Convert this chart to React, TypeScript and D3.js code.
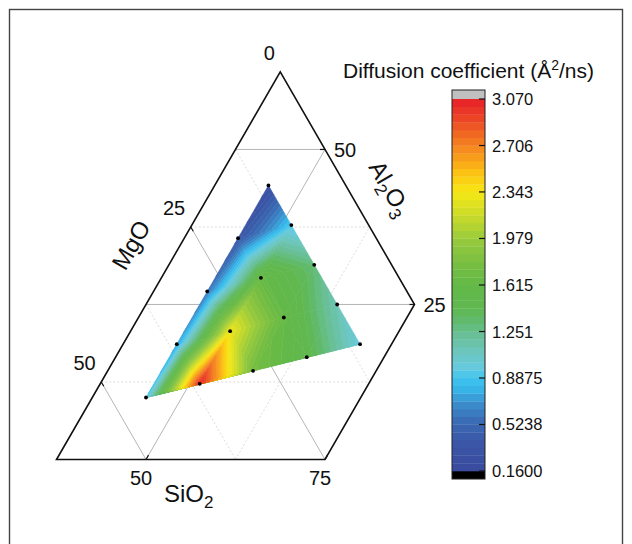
import React, { useEffect, useRef } from 'react';
import * as d3 from 'd3';

// sampled compositions (mol %) and the diffusion coefficient at each one
const sio2 = [45.0, 45.0, 45.0, 45.0, 45.0, 51.4, 51.4, 51.4, 51.4, 57.8, 57.8, 57.8, 64.2, 64.2, 70.6];
const mgo = [10.8, 19.3, 27.9, 36.4, 45.0, 10.8, 19.3, 27.9, 36.4, 10.8, 19.3, 27.9, 10.8, 19.3, 10.8];
const al2o3 = [44.2, 35.7, 27.1, 18.6, 10.0, 37.8, 29.3, 20.7, 12.2, 31.4, 22.9, 14.3, 25.0, 16.5, 18.6];
const diffusion = [0.25, 0.38, 0.58, 0.74, 0.90, 0.90, 1.64, 2.30, 3.05, 1.30, 1.62, 1.76, 1.12, 1.48, 0.97];

// axes
const sio2Ticks = [50, 75];
const mgoTicks = [0, 25, 50];
const al2o3Ticks = [25, 50];
const gridValues = [12.5, 25, 37.5, 50, 62.5];

// colour scale
const colorTicks = [0.16, 0.5238, 0.8875, 1.251, 1.615, 1.979, 2.343, 2.706, 3.07];
const colorTickLabels = ['0.1600', '0.5238', '0.8875', '1.251', '1.615', '1.979', '2.343', '2.706', '3.070'];
const paletteStops = [0.16, 0.40, 0.55, 0.68, 0.80, 0.88, 0.97, 1.10, 1.22, 1.32, 1.42, 1.60, 1.78, 1.979, 2.15, 2.343, 2.48, 2.60, 2.75, 2.90, 3.07];
const paletteColors = ['#3a4a9f', '#3b58a7', '#3b6cb5', '#3b8ccc', '#38b4e8', '#3ec4ef', '#66cade', '#6cc6bb', '#68bf98', '#62bb72', '#5fb852',
  '#62b847', '#78be42', '#9acb3c', '#c8da2a', '#f6e816', '#fcc712', '#f9a01b', '#f47622', '#ec4a26', '#e8202a'];
const nLevels = 48;

const font = 'Liberation Sans, Arial, sans-serif';

type P = number[];

const clipHalf = (poly: P[], f: (p: P) => number) => {
    const res: P[] = [];
    for (let i = 0; i < poly.length; i++) {
        const a = poly[i];
        const b = poly[(i + 1) % poly.length];
        const fa = f(a);
        const fb = f(b);
        if (fa >= 0) res.push(a);
        if ((fa >= 0) !== (fb >= 0)) {
            const t = fa / (fa - fb);
            res.push(a.map((av, k) => av + t * (b[k] - av)));
        }
    }
    return res;
};

export default function App() {
    const svgRef = useRef<SVGSVGElement>(null);

    useEffect(() => {
        const svg = d3.select(svgRef.current);
        svg.selectAll('*').remove();

        // outer border
        svg.append('rect')
            .attr('x', 9.5).attr('y', 9.5).attr('width', 613).attr('height', 560)
            .attr('fill', 'none').attr('stroke', '#444').attr('stroke-width', 1.4);

        // ternary -> pixel (SiO2 bottom right, MgO bottom left, Al2O3 top)
        const side = 716;
        const x = d3.scaleLinear().domain([0, 100]).range([-212, -212 + side]);
        const y = d3.scaleLinear().domain([0, 100]).range([459.5, 459.5 - side * Math.sqrt(3) / 2]);
        const proj = (s: number, a: number): [number, number] => [x(s + a / 2), y(a)];
        const sLo = 37.5;
        const sHi = 75;

        const g = svg.append('g');

        // grid
        const segs: { a: [number, number]; b: [number, number]; major: boolean }[] = [];
        gridValues.forEach((v) => {
            const major = v % 25 === 0;
            const sEnd = Math.min(sHi, 100 - v);
            // constant Al2O3
            if (sEnd > sLo) segs.push({ a: proj(sLo, v), b: proj(sEnd, v), major });
            // constant SiO2
            if (v > sLo && v < sHi) segs.push({ a: proj(v, 0), b: proj(v, 100 - v), major });
            // constant MgO
            if (sEnd > sLo) segs.push({ a: proj(sLo, 100 - v - sLo), b: proj(sEnd, 100 - v - sEnd), major });
        });
        g.append('g').selectAll('line').data(segs).join('line')
            .attr('x1', (d) => d.a[0]).attr('y1', (d) => d.a[1])
            .attr('x2', (d) => d.b[0]).attr('y2', (d) => d.b[1])
            .attr('stroke', (d) => (d.major ? '#adadad' : '#cdcdcd'))
            .attr('stroke-width', (d) => (d.major ? 0.9 : 0.7))
            .attr('stroke-dasharray', (d) => (d.major ? null : '2,2'));

        // contour fill from a linear interpolation on the triangulated samples
        const pts = sio2.map((s, i) => proj(s, al2o3[i]));
        const delaunay = d3.Delaunay.from(pts);
        const color = d3.scaleLinear<string>().domain(paletteStops).range(paletteColors).interpolate(d3.interpolateRgb);
        const vMin = colorTicks[0];
        const vMax = colorTicks[colorTicks.length - 1];
        const levels = d3.range(nLevels + 1).map((k) => vMin + (k * (vMax - vMin)) / nLevels);
        const bands: { poly: P[]; fill: string }[] = [];
        const tri = delaunay.triangles;
        for (let t = 0; t < tri.length; t += 3) {
            const ids = [tri[t], tri[t + 1], tri[t + 2]];
            const poly = ids.map((i) => [pts[i][0], pts[i][1], diffusion[i]]);
            const area = Math.abs((poly[1][0] - poly[0][0]) * (poly[2][1] - poly[0][1]) - (poly[2][0] - poly[0][0]) * (poly[1][1] - poly[0][1])) / 2;
            if (area < 1) continue;
            for (let k = 0; k < nLevels; k++) {
                const lo = k === 0 ? -Infinity : levels[k];
                const hi = k === nLevels - 1 ? Infinity : levels[k + 1];
                let p = clipHalf(poly, (q) => q[2] - lo);
                p = clipHalf(p, (q) => hi - q[2]);
                if (p.length >= 3) bands.push({ poly: p, fill: color((levels[k] + levels[k + 1]) / 2) });
            }
        }
        const line = d3.line<P>().x((d) => d[0]).y((d) => d[1]).curve(d3.curveLinearClosed);
        g.append('g').selectAll('path').data(bands).join('path')
            .attr('d', (d) => line(d.poly))
            .attr('fill', (d) => d.fill)
            .attr('stroke', (d) => d.fill)
            .attr('stroke-width', 0.6)
            .attr('stroke-linejoin', 'round');

        // frame
        const frame = [proj(sLo, 100 - sLo), proj(sHi, 100 - sHi), proj(sHi, 0), proj(sLo, 0)];
        g.append('path')
            .attr('d', line(frame))
            .attr('fill', 'none').attr('stroke', '#111').attr('stroke-width', 1.6)
            .attr('stroke-linejoin', 'miter');

        // ticks (inward, along the grid directions)
        const tickLen = 5;
        const ticks: [number, number, number, number][] = [];
        sio2Ticks.forEach((s) => {
            const [px, py] = proj(s, 0);
            ticks.push([px, py, px + tickLen * 0.5, py - tickLen * 0.866]);
        });
        mgoTicks.slice(1).forEach((m) => {
            const [px, py] = proj(sLo, 100 - m - sLo);
            ticks.push([px, py, px + tickLen * 0.5, py + tickLen * 0.866]);
        });
        al2o3Ticks.forEach((a) => {
            const [px, py] = proj(100 - a, a);
            ticks.push([px, py, px - tickLen, py]);
        });
        g.append('g').selectAll('line').data(ticks).join('line')
            .attr('x1', (d) => d[0]).attr('y1', (d) => d[1])
            .attr('x2', (d) => d[2]).attr('y2', (d) => d[3])
            .attr('stroke', '#111').attr('stroke-width', 1.2);

        // sample points
        g.append('g').selectAll('circle').data(pts).join('circle')
            .attr('cx', (d) => d[0]).attr('cy', (d) => d[1])
            .attr('r', 1.9).attr('fill', '#000');

        // tick labels
        const labels = g.append('g').attr('font-family', font).attr('font-size', 20).attr('fill', '#111');
        mgoTicks.forEach((m) => {
            const [px, py] = proj(sLo, 100 - m - sLo);
            labels.append('text').attr('x', px - 5.5).attr('y', py - 12).attr('text-anchor', 'end').text(m);
        });
        al2o3Ticks.forEach((a) => {
            const [px, py] = proj(100 - a, a);
            labels.append('text').attr('x', px + 9).attr('y', py + 7.5).text(a);
        });
        sio2Ticks.forEach((s) => {
            const [px, py] = proj(s, 0);
            labels.append('text').attr('x', px - 5).attr('y', py + 25.5).attr('text-anchor', 'middle').text(s);
        });

        // axis titles
        const titles = g.append('g').attr('font-family', font).attr('font-size', 24).attr('fill', '#111');
        const si = titles.append('text').attr('x', 164).attr('y', 502);
        si.append('tspan').text('SiO');
        si.append('tspan').attr('dy', 6).attr('font-size', 17).text('2');

        titles.append('text')
            .attr('transform', 'translate(131,245) rotate(-60)')
            .attr('text-anchor', 'middle').attr('dy', '0.35em')
            .text('MgO');

        const al = titles.append('text')
            .attr('transform', 'translate(389,189) rotate(60)')
            .attr('text-anchor', 'middle').attr('dy', '0.3em');
        al.append('tspan').text('Al');
        al.append('tspan').attr('dy', 6).attr('font-size', 17).text('2');
        al.append('tspan').attr('dy', -6).text('O');
        al.append('tspan').attr('dy', 6).attr('font-size', 17).text('3');

        // colour bar
        const cbX = 452;
        const cbW = 33;
        const cbY = d3.scaleLinear().domain([vMin, vMax]).range([471, 99]);
        const cb = svg.append('g');
        cb.append('rect').attr('x', cbX).attr('y', 90).attr('width', cbW).attr('height', cbY(vMax) - 90).attr('fill', '#c0c0c0');
        cb.append('rect').attr('x', cbX).attr('y', cbY(vMin)).attr('width', cbW).attr('height', 479 - cbY(vMin)).attr('fill', '#000');
        cb.append('g').selectAll('rect').data(d3.range(nLevels)).join('rect')
            .attr('x', cbX)
            .attr('y', (k) => cbY(levels[k + 1]))
            .attr('width', cbW)
            .attr('height', (k) => cbY(levels[k]) - cbY(levels[k + 1]) + 0.3)
            .attr('fill', (k) => color((levels[k] + levels[k + 1]) / 2));
        cb.append('rect').attr('x', cbX).attr('y', 90).attr('width', cbW).attr('height', 389)
            .attr('fill', 'none').attr('stroke', '#222').attr('stroke-width', 1);
        cb.append('g').selectAll('line').data(colorTicks).join('line')
            .attr('x1', cbX + cbW - 6).attr('x2', cbX + cbW)
            .attr('y1', (d) => cbY(d)).attr('y2', (d) => cbY(d))
            .attr('stroke', '#111').attr('stroke-width', 1.2);
        cb.append('g').attr('font-family', font).attr('font-size', 16.5).attr('fill', '#111')
            .selectAll('text').data(colorTicks).join('text')
            .attr('x', cbX + cbW + 7)
            .attr('y', (d) => cbY(d) + 6)
            .text((d, i) => colorTickLabels[i]);

        const title = svg.append('text').attr('x', 343).attr('y', 77.5)
            .attr('font-family', font).attr('font-size', 21).attr('fill', '#111');
        title.append('tspan').text('Diffusion coefficient (Å');
        title.append('tspan').attr('dy', -8).attr('font-size', 14).text('2');
        title.append('tspan').attr('dy', 8).text('/ns)');
    }, []);

    return (
        <svg
            ref={svgRef}
            width={632}
            height={544}
            style={{ position: 'absolute', left: 0, top: 0, background: '#fff' }}
        />
    );
}
